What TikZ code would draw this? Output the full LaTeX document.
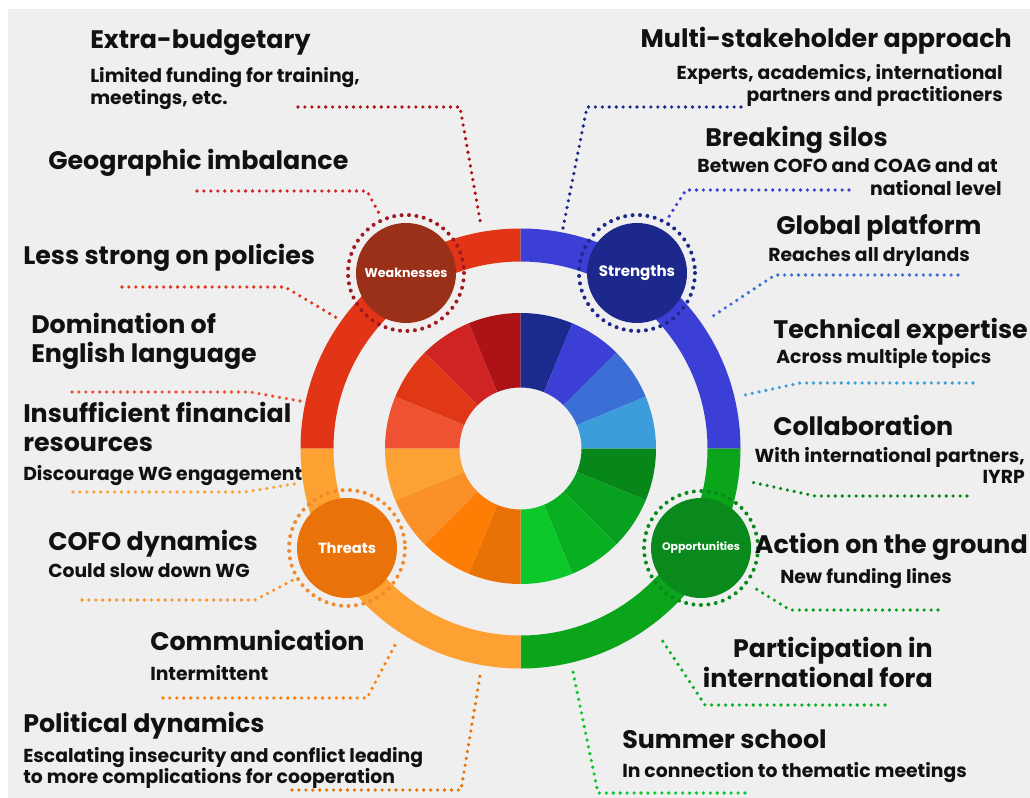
\documentclass[tikz,border=0pt]{standalone}
\usepackage{fontspec}
\setmainfont{Poppins}
\usetikzlibrary{calc}

% palette
\definecolor{bg}{HTML}{EFEFEF}
\definecolor{ink}{HTML}{111111}
\definecolor{ringW}{HTML}{E23416}
\definecolor{ringS}{HTML}{3B3FD6}
\definecolor{ringO}{HTML}{0BA51C}
\definecolor{ringT}{HTML}{FEA133}
\definecolor{wA}{HTML}{AC1216}
\definecolor{wB}{HTML}{D02424}
\definecolor{wC}{HTML}{E03716}
\definecolor{wD}{HTML}{EF5232}
\definecolor{sA}{HTML}{1A2A8D}
\definecolor{sB}{HTML}{3B3FD6}
\definecolor{sC}{HTML}{3C6FD6}
\definecolor{sD}{HTML}{3C9DDA}
\definecolor{oA}{HTML}{07861A}
\definecolor{oB}{HTML}{08A01F}
\definecolor{oC}{HTML}{08AF20}
\definecolor{oD}{HTML}{0CC82A}
\definecolor{tA}{HTML}{E87206}
\definecolor{tB}{HTML}{FE7D04}
\definecolor{tC}{HTML}{FA9128}
\definecolor{tD}{HTML}{FCA133}
\definecolor{hubW}{HTML}{9B3019}
\definecolor{hubS}{HTML}{1C288C}
\definecolor{hubT}{HTML}{E9720B}
\definecolor{hubO}{HTML}{0A8A1D}
\definecolor{haloW}{HTML}{A01820}
\definecolor{haloT}{HTML}{F08A30}

% annular sector: colour, start angle, end angle, inner radius, outer radius
\newcommand\annsector[5]{%
  \fill[#1] ($(O)+(#2:#5)$) arc[start angle=#2, end angle=#3, radius=#5]
    -- ($(O)+(#3:#4)$) arc[start angle=#3, end angle=#2, radius=#4] -- cycle;}

\begin{document}
\begin{tikzpicture}[x=0.75pt,y=-0.75pt,
  title/.style={inner sep=0pt, text=ink, font=\bfseries\fontsize{19}{22}\selectfont},
  sub/.style={inner sep=0pt, text=ink, font=\bfseries\fontsize{14.1}{16}\selectfont},
  link/.style={line width=2.7pt, line cap=round, line join=round, dash pattern=on 0pt off 5.2pt},
  halo/.style={line width=3pt, line cap=round, dash pattern=on 0pt off 5.6pt},
  hub/.style={circle, minimum size=75pt, inner sep=0pt, text=white, font=\bfseries}]

\useasboundingbox (0,0) rectangle (1030,798);
\fill[white] (0,0) rectangle (1030,798);
\fill[bg] (8,9) rectangle (1030,798);

\coordinate (O) at (520.5,448.5);

% ---------- connectors ----------
% weaknesses
\coordinate (w1a) at (298,107); \coordinate (w1b) at (460,107); \coordinate (w1c) at (481,226);
\coordinate (w2a) at (197,191); \coordinate (w2b) at (367,191); \coordinate (w2c) at (381,217);
\coordinate (w3a) at (122,287); \coordinate (w3b) at (285,287); \coordinate (w3c) at (337,318);
\coordinate (w4a) at (72,392);  \coordinate (w4b) at (250,392); \coordinate (w4c) at (300,401);
\draw[link, wA] (w1a) -- (w1b) -- (w1c);
\draw[link, wB] (w2a) -- (w2b) -- (w2c);
\draw[link, wC] (w3a) -- (w3b) -- (w3c);
\draw[link, wD] (w4a) -- (w4b) -- (w4c);
% threats
\coordinate (t1a) at (73,492);  \coordinate (t1b) at (245,492); \coordinate (t1c) at (300,483);
\coordinate (t2a) at (82,600);  \coordinate (t2b) at (255,600); \coordinate (t2c) at (297,578);
\coordinate (t3a) at (163,698); \coordinate (t3b) at (367,698); \coordinate (t3c) at (395,645);
\coordinate (t4a) at (292,790); \coordinate (t4b) at (461,790); \coordinate (t4c) at (480,676);
\draw[link, tD] (t1a) -- (t1b) -- (t1c);
\draw[link, tC] (t2a) -- (t2b) -- (t2c);
\draw[link, tB] (t3a) -- (t3b) -- (t3c);
\draw[link, tA] (t4a) -- (t4b) -- (t4c);
% strengths
\coordinate (s1a) at (741,107); \coordinate (s1b) at (587,107); \coordinate (s1c) at (563,228);
\coordinate (s2a) at (849,190); \coordinate (s2b) at (686,190); \coordinate (s2c) at (668,218);
\coordinate (s3a) at (958,275); \coordinate (s3b) at (775,275); \coordinate (s3c) at (710,318);
\coordinate (s4a) at (973,383); \coordinate (s4b) at (800,383); \coordinate (s4c) at (745,395);
\draw[link, sA] (s1a) -- (s1b) -- (s1c);
\draw[link, sB] (s2a) -- (s2b) -- (s2c);
\draw[link, sC] (s3a) -- (s3b) -- (s3c);
\draw[link, sD] (s4a) -- (s4b) -- (s4c);
% opportunities
\coordinate (o1a) at (967,496); \coordinate (o1b) at (815,496); \coordinate (o1c) at (751,482);
\coordinate (o2a) at (938,610); \coordinate (o2b) at (790,610); \coordinate (o2c) at (753,587);
\coordinate (o3a) at (885,705); \coordinate (o3b) at (705,705); \coordinate (o3c) at (660,637);
\coordinate (o4a) at (745,793); \coordinate (o4b) at (598,793); \coordinate (o4c) at (573,672);
\draw[link, oA] (o1a) -- (o1b) -- (o1c);
\draw[link, oB] (o2a) -- (o2b) -- (o2c);
\draw[link, oC] (o3a) -- (o3b) -- (o3c);
\draw[link, oD] (o4a) -- (o4b) -- (o4c);

% ---------- outer ring ----------
\annsector{ringW}{-90}{-180}{187}{220}
\annsector{ringS}{0}{-90}{187}{220}
\annsector{ringO}{90}{0}{187}{220}
\annsector{ringT}{180}{90}{187}{220}

% ---------- inner wheel ----------
\annsector{wA}{-90}{-112.5}{61}{135.5}
\annsector{wB}{-112.5}{-135}{61}{135.5}
\annsector{wC}{-135}{-157.5}{61}{135.5}
\annsector{wD}{-157.5}{-180}{61}{135.5}
\annsector{sA}{-90}{-67.5}{61}{135.5}
\annsector{sB}{-67.5}{-45}{61}{135.5}
\annsector{sC}{-45}{-22.5}{61}{135.5}
\annsector{sD}{-22.5}{0}{61}{135.5}
\annsector{oA}{0}{22.5}{61}{135.5}
\annsector{oB}{22.5}{45}{61}{135.5}
\annsector{oC}{45}{67.5}{61}{135.5}
\annsector{oD}{67.5}{90}{61}{135.5}
\annsector{tA}{90}{112.5}{61}{135.5}
\annsector{tB}{112.5}{135}{61}{135.5}
\annsector{tC}{135}{157.5}{61}{135.5}
\annsector{tD}{157.5}{180}{61}{135.5}

% ---------- hubs ----------
\coordinate (Wc) at (406,273);
\coordinate (Sc) at (637,273);
\coordinate (Tc) at (347,548);
\coordinate (Oc) at (701,548);
\draw[halo, haloW] (Wc) circle[radius=58];
\draw[halo, hubS] (Sc) circle[radius=58];
\draw[halo, haloT] (Tc) circle[radius=58];
\draw[halo, hubO] (Oc) circle[radius=57];
\node[hub, fill=hubW, font=\bfseries\fontsize{9.5}{11}\selectfont] (W) at (Wc) {Weaknesses};
\node[hub, fill=hubS, font=\bfseries\fontsize{11.3}{13}\selectfont] (S) at (Sc) {Strengths};
\node[hub, fill=hubT, font=\bfseries\fontsize{11}{13}\selectfont] (T) at (Tc) {Threats};
\node[hub, fill=hubO, font=\bfseries\fontsize{8.2}{10}\selectfont] (Op) at (Oc) {Opportunities};

% ---------- texts: weaknesses ----------
\node[title, anchor=base west] (w1t) at (90,49) {Extra-budgetary};
\node[sub, anchor=base west] (w1s1) at (90,83) {Limited funding for training,};
\node[sub, anchor=base west] (w1s2) at (90,105) {meetings, etc.};
\node[title, anchor=base west] (w2t) at (48,170) {Geographic imbalance};
\node[title, anchor=base west] (w3t) at (23,265) {Less strong on policies};
\node[title, anchor=base west] (w4t1) at (31,333) {Domination of};
\node[title, anchor=base west] (w4t2) at (31,362) {English language};

% ---------- texts: threats ----------
\node[title, anchor=base west] (t1t1) at (23,422) {Insufficient financial};
\node[title, anchor=base west] (t1t2) at (23,451) {resources};
\node[sub, anchor=base west] (t1s) at (23,480) {Discourage WG engagement};
\node[title, anchor=base west] (t2t) at (48,550) {COFO dynamics};
\node[sub, anchor=base west] (t2s) at (48,577) {Could slow down WG};
\node[title, anchor=base west] (t3t) at (150,650) {Communication};
\node[sub, anchor=base west] (t3s) at (150,680) {Intermittent};
\node[title, anchor=base west] (t4t) at (23,732) {Political dynamics};
\node[sub, anchor=base west] (t4s1) at (23,762) {Escalating insecurity and conflict leading};
\node[sub, anchor=base west] (t4s2) at (23,783) {to more complications for cooperation};

% ---------- texts: strengths ----------
\node[title, anchor=base east] (s1t) at (1012,48) {Multi-stakeholder approach};
\node[sub, anchor=base east] (s1s1) at (1003,80) {Experts, academics, international};
\node[sub, anchor=base east] (s1s2) at (1003,102) {partners and practitioners};
\node[title, anchor=base west] (s2t) at (705,147) {Breaking silos};
\node[sub, anchor=base east] (s2s1) at (998,173) {Betwen COFO and COAG and at};
\node[sub, anchor=base east] (s2s2) at (1002,196) {national level};
\node[title, anchor=base west] (s3t) at (776,235) {Global platform};
\node[sub, anchor=base west] (s3s) at (768,262) {Reaches all drylands};
\node[title, anchor=base west] (s4t) at (773,338) {Technical expertise};
\node[sub, anchor=base west] (s4s) at (776,363) {Across multiple topics};

% ---------- texts: opportunities ----------
\node[title, anchor=base west] (o1t) at (773,435) {Collaboration};
\node[sub, anchor=base east] (o1s1) at (1025,462) {With international partners,};
\node[sub, anchor=base east] (o1s2) at (1025,483) {IYRP};
\node[title, anchor=base east] (o2t) at (1028,553) {Action on the ground};
\node[sub, anchor=base west] (o2s) at (780,583) {New funding lines};
\node[title, anchor=base east] (o3t1) at (933,657) {Participation in};
\node[title, anchor=base east] (o3t2) at (933,687) {international fora};
\node[title, anchor=base west] (o4t) at (622,748) {Summer school};
\node[sub, anchor=base west] (o4s) at (622,777) {In connection to thematic meetings};

\end{tikzpicture}
\end{document}
